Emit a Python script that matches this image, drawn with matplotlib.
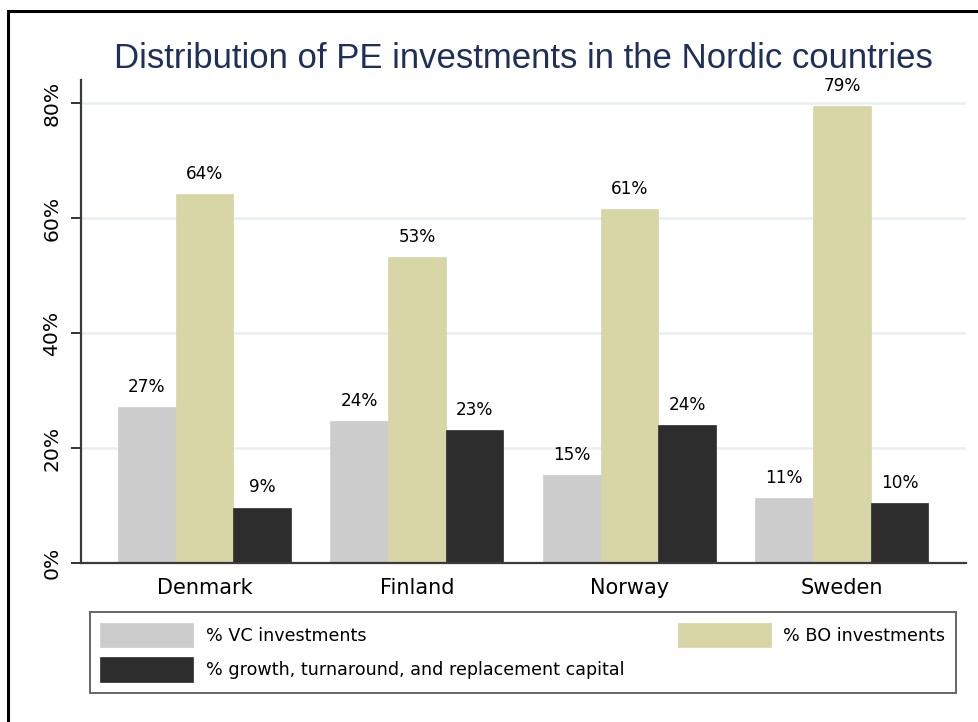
import numpy as np
import matplotlib
matplotlib.use("Agg")
import matplotlib.pyplot as plt
from matplotlib.patches import Rectangle

countries = ["Denmark", "Finland", "Norway", "Sweden"]
vc_share = [27.2, 24.7, 15.4, 11.4]
bo_share = [64.2, 53.3, 61.6, 79.5]
growth_share = [9.7, 23.1, 24.0, 10.4]
series_names = ["% VC investments", "% BO investments",
                "% growth, turnaround, and replacement capital"]
yticks = [0, 20, 40, 60, 80]

colors = ["#cccccc", "#d8d5a6", "#2d2d2d"]

plt.rcParams['font.family'] = ['DejaVu Sans']

W, H = 979, 722
fig = plt.figure(figsize=(W / 100, H / 100), dpi=100)
ax = fig.add_axes([81 / W, 1 - 563.3 / H, (966 - 81) / W, (563.3 - 80) / H])

# outer frame of the graph region
fig.patches.append(Rectangle((8 / W, -0.05), 1.2, 1 - 11 / H + 0.05,
                             transform=fig.transFigure, fill=False,
                             edgecolor="black", linewidth=2.2, clip_on=False))

x = np.arange(len(countries))
bw = 0.2714
series = [vc_share, bo_share, growth_share]
for i, (vals, col, name) in enumerate(zip(series, colors, series_names)):
    pos = x + (i - 1) * bw
    ax.bar(pos, vals, width=bw, color=col, edgecolor=col, linewidth=0.5,
           label=name, zorder=2)
    for p, v in zip(pos, vals):
        ax.annotate(f"{int(v)}%", (p, v), xytext=(0, 8), textcoords="offset points",
                    ha="center", va="bottom", fontsize=12.2, color="black")

ax.set_xlim(-0.581, 3.584)
ax.set_ylim(0, 84.05)
ax.set_yticks(yticks)
ax.set_yticklabels([f"{t}%" for t in yticks], rotation=90, va="center",
                   fontsize=14.6)
ax.set_xticks(x)
ax.set_xticklabels(countries, fontsize=15)
ax.tick_params(axis="x", length=0, pad=10.5)
ax.tick_params(axis="y", length=7, width=1.4, color="#333333", pad=7)
ax.grid(axis="y", color="#e9eff2", linewidth=1.8, zorder=0)
ax.set_axisbelow(True)
for s in ["top", "right"]:
    ax.spines[s].set_visible(False)
for s in ["left", "bottom"]:
    ax.spines[s].set_color("#3a3a3a")
    ax.spines[s].set_linewidth(1.6)

fig.text(523.5 / W, 1 - 68 / H, "Distribution of PE investments in the Nordic countries",
         ha="center", va="baseline", fontsize=25, color="#1e2f5a",
         family="Liberation Sans")

handles, labels = ax.get_legend_handles_labels()
order = [0, 2, 1]
leg = fig.legend([handles[k] for k in order], [labels[k] for k in order],
                 loc="upper left", ncol=2, mode="expand",
                 bbox_to_anchor=(90 / W, 1 - 692 / H, (956 - 90) / W, (692 - 612) / H),
                 bbox_transform=fig.transFigure, borderaxespad=0,
                 fontsize=12.6, handlelength=5.3, handleheight=1.82,
                 handletextpad=0.74, labelspacing=0.56, borderpad=0.6,
                 fancybox=False, frameon=True)
leg.get_frame().set_edgecolor("#404040")
leg.get_frame().set_linewidth(1.4)

fig.savefig("out.png", dpi=100)
